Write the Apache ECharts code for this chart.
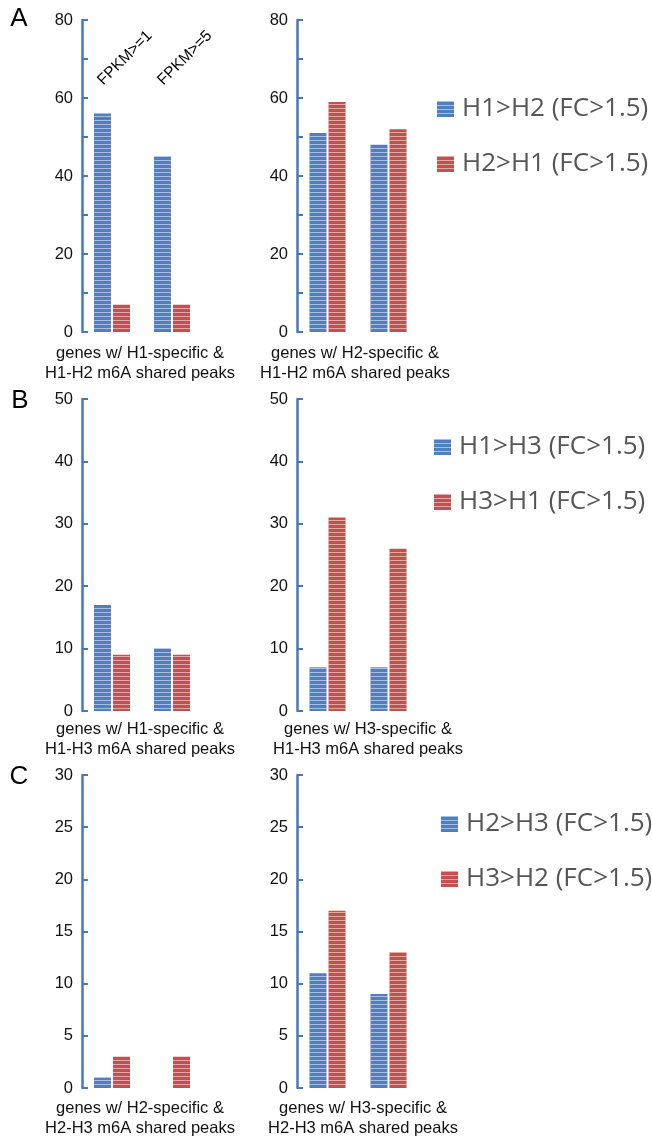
<!DOCTYPE html>
<html>
<head>
<meta charset="utf-8">
<title>m6A shared peaks – differential genes</title>
<script src="https://cdn.jsdelivr.net/npm/echarts@6/dist/echarts.min.js"></script>
<style>
  html, body { margin: 0; padding: 0; background: #fff; }
  #chart { width: 652px; height: 1139px; }
</style>
</head>
<body>
<div id="chart"></div>
<script>
// Expression thresholds (one group of bars per threshold)
const categories = ['FPKM>=1', 'FPKM>=5'];

// Panel A: H1 vs H2
const legendA = ['H1>H2 (FC>1.5)', 'H2>H1 (FC>1.5)'];
const a1Up = [56, 45];   // H1-specific & shared peaks
const a1Down = [7, 7];
const a2Up = [51, 48];   // H2-specific & shared peaks
const a2Down = [59, 52];

// Panel B: H1 vs H3
const legendB = ['H1>H3 (FC>1.5)', 'H3>H1 (FC>1.5)'];
const b1Up = [17, 10];
const b1Down = [9, 9];
const b2Up = [7, 7];
const b2Down = [31, 26];

// Panel C: H2 vs H3
const legendC = ['H2>H3 (FC>1.5)', 'H3>H2 (FC>1.5)'];
const c1Up = [1, 0];
const c1Down = [3, 3];
const c2Up = [11, 9];
const c2Down = [17, 13];

// Group captions under each plot
const captions = [
  'genes w/ H1-specific &\nH1-H2 m6A shared peaks',
  'genes w/ H2-specific &\nH1-H2 m6A shared peaks',
  'genes w/ H1-specific &\nH1-H3 m6A shared peaks',
  'genes w/ H3-specific &\nH1-H3 m6A shared peaks',
  'genes w/ H2-specific &\nH2-H3 m6A shared peaks',
  'genes w/ H3-specific &\nH2-H3 m6A shared peaks'
];

// Y axis ranges per panel
const yMax = [80, 50, 30];
const yStep = [10, 10, 5];
const yLabelEvery = [20, 10, 5];
const panelLetters = ['A', 'B', 'C'];

const BLUE = '#4f7fc0';
const RED = '#c4504e';
const AXIS = '#4677bb';
const FONT = '"Liberation Sans", Arial, sans-serif';

const stripes = {
  symbol: 'rect',
  symbolSize: 1,
  dashArrayX: [1, 0],
  dashArrayY: [1, 3],
  rotation: 0,
  color: 'rgba(255,255,255,0.5)'
};

const chart = echarts.init(document.getElementById('chart'), null, { renderer: 'canvas' });

const grids = [
  { left: 82, top: 20, width: 120, height: 312 },
  { left: 297, top: 20, width: 122, height: 312 },
  { left: 82, top: 399, width: 120, height: 312 },
  { left: 297, top: 399, width: 122, height: 312 },
  { left: 82, top: 775, width: 120, height: 313 },
  { left: 297, top: 775, width: 122, height: 313 }
].map(g => Object.assign({ outerBoundsMode: 'none', containLabel: false }, g));

// caption fine placement: [gap below axis, horizontal shift]
const captionGap = [11, 11, 8, 8, 10, 10];
const captionShift = [-2, -3, -2, 10, -2, 5];

const xAxes = grids.map((g, i) => ({
  type: 'category',
  gridIndex: i,
  data: categories,
  axisLine: { show: false },
  axisTick: { show: false },
  axisLabel: { show: false },
  name: captions[i],
  nameLocation: 'middle',
  nameGap: captionGap[i],
  nameTextStyle: {
    fontFamily: FONT,
    fontSize: 16.5,
    lineHeight: 20,
    color: '#111',
    padding: captionShift[i] >= 0 ? [0, 0, 0, 2 * captionShift[i]] : [0, -2 * captionShift[i], 0, 0]
  }
}));

const yAxes = grids.map((g, i) => {
  const p = Math.floor(i / 2);
  return {
    type: 'value',
    gridIndex: i,
    min: 0,
    max: yMax[p],
    interval: yStep[p],
    splitLine: { show: false },
    axisLine: { show: true, lineStyle: { color: AXIS, width: 2.5 } },
    axisTick: { show: true, inside: true, length: 6, lineStyle: { color: AXIS, width: 2 } },
    axisLabel: {
      margin: 9,
      fontFamily: FONT,
      fontSize: 16.5,
      color: '#111',
      formatter: v => (v % yLabelEvery[p] === 0 ? String(v) : '')
    }
  };
});

const upData = [a1Up, a2Up, b1Up, b2Up, c1Up, c2Up];
const downData = [a1Down, a2Down, b1Down, b2Down, c1Down, c2Down];
const legendNames = [legendA, legendB, legendC];

const series = [];
for (let i = 0; i < 6; i++) {
  const names = legendNames[Math.floor(i / 2)];
  series.push({
    type: 'bar', name: names[0], xAxisIndex: i, yAxisIndex: i,
    data: upData[i], barWidth: 17, barGap: '12%',
    itemStyle: { color: BLUE, decal: stripes },
    emphasis: { disabled: true }, animation: false
  });
  series.push({
    type: 'bar', name: names[1], xAxisIndex: i, yAxisIndex: i,
    data: downData[i], barWidth: 17, barGap: '12%',
    itemStyle: { color: RED, decal: stripes },
    emphasis: { disabled: true }, animation: false
  });
}

const legendPos = [
  { left: 437, top: 96 },
  { left: 434, top: 434 },
  { left: 441, top: 811 }
];
const legends = legendNames.map((names, p) => ({
  data: names,
  orient: 'vertical',
  left: legendPos[p].left,
  top: legendPos[p].top,
  padding: 0,
  itemWidth: 17,
  itemHeight: 16,
  itemGap: 29,
  icon: 'rect',
  selectedMode: false,
  textStyle: {
    fontFamily: '"Open Sans", sans-serif',
    fontSize: 26,
    color: '#555555',
    padding: [0, 0, 0, 3]
  }
}));

const letterPos = [[19, 19], [20, 401], [19, 777]];
const letterGraphics = panelLetters.map((t, p) => ({
  type: 'text',
  x: letterPos[p][0], y: letterPos[p][1],
  style: { text: t, font: '26px ' + FONT, fill: '#000', align: 'center', verticalAlign: 'middle' }
}));

chart.setOption({
  animation: false,
  aria: { enabled: true, decal: { show: true } },
  grid: grids,
  xAxis: xAxes,
  yAxis: yAxes,
  legend: legends,
  series: series,
  graphic: letterGraphics
});

// Rotated threshold labels above the first plot, placed through the category scale
const thresholdGraphics = categories.map((c, k) => {
  const px = chart.convertToPixel({ xAxisIndex: 0 }, c);
  return {
    type: 'text',
    x: px + 13, y: 58,
    rotation: Math.PI / 4,
    style: { text: c, font: '15.5px ' + FONT, fill: '#000', align: 'center', verticalAlign: 'middle' }
  };
});
chart.setOption({ graphic: letterGraphics.concat(thresholdGraphics) });
</script>
</body>
</html>
